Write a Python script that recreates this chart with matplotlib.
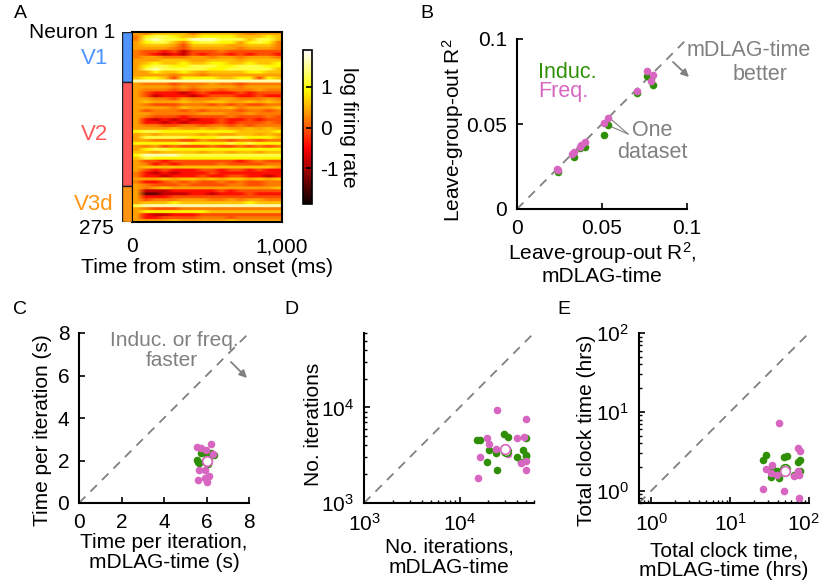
import numpy as np
import matplotlib
matplotlib.use("Agg")
import matplotlib.pyplot as plt
from matplotlib.transforms import ScaledTranslation

plt.rcParams["font.family"] = ["Liberation Sans", "DejaVu Sans"]
plt.rcParams["mathtext.default"] = "regular"
plt.rcParams["axes.unicode_minus"] = False
plt.rcParams["font.size"] = 15

W, H = 822, 586
GREEN = "#2f8f06"
PINK = "#d766c0"
GRAY = "#808080"

heat_rows = [
    "5466664666654555", "4788766777766676", "4898879998886886", "5788647887757874",
    "5666536666556664", "5555435555545554", "4332313334333333", "4321213233232332",
    "4554445545545554", "5556665566656666", "5676676677667667", "5788778887788877",
    "5898888877888886", "5576676566667766", "5555455455555555", "6776377776677376",
    "9999999999999999",
    "5444344454434444", "5555454555545555", "5444343443444544", "5322212322232333",
    "5312221233322322", "5544354445544454", "5655565566556565", "5433344434343344",
    "5555465555645556", "5344434344434434", "5544444555445444", "5433323333433343",
    "5212121223223233", "5221212223233343", "5443344344343444", "5555655656556565",
    "7887777777766667", "5656666565566565", "5888887778887776", "5544433544344344",
    "7777787777878777", "5453433343343434", "5788777777777777", "6656666566566566",
    "7999988888888888", "6877777777777777", "5332333333323433", "5423233334333344",
    "5666666666666665", "5323222332332322", "4212122232222222", "4221222322332212",
    "5556566565665656", "4223434334343344", "5433343333443344",
    "5456555555555556", "5111222223233333", "5001112212223222", "5222333333333333",
    "5344455544545544", "5666766666667666", "8999999999999999", "5433344444444444",
    "5777777766666666", "5211222333333333", "5223333444344444", "5555655555655555",
]
level_values = [-1.3, -0.8, -0.4, -0.05, 0.2, 0.4, 0.6, 0.9, 1.2, 1.6]
area_names = ["V1", "V2", "V3d"]
area_counts = [73, 150, 52]
area_colors = ["#4f94ff", "#ff5757", "#ff9410"]

# ---------- panel B ----------
r2_induc_x = [0.0243, 0.0335, 0.0371, 0.0400, 0.0510, 0.0537, 0.0708, 0.0763, 0.0786, 0.0800]
r2_induc_y = [0.0220, 0.0308, 0.0361, 0.0367, 0.0437, 0.0496, 0.0684, 0.0784, 0.0763, 0.0727]
r2_freq_x = [0.0233, 0.0243, 0.0324, 0.0333, 0.0371, 0.0378, 0.0400, 0.0510, 0.0537, 0.0708, 0.0763, 0.0786, 0.0800]
r2_freq_y = [0.0233, 0.0230, 0.0325, 0.0335, 0.0367, 0.0375, 0.0394, 0.0506, 0.0535, 0.0694, 0.0810, 0.0753, 0.0786]

# ---------- panel C ----------
time_induc_x = [5.73, 6.20, 6.35, 5.54, 5.60, 5.66, 5.98, 6.09]
time_induc_y = [2.37, 2.37, 2.26, 2.02, 1.94, 1.87, 2.34, 1.84]
time_freq_x = [6.21, 5.54, 5.73, 5.96, 6.32, 5.65, 5.93, 6.13, 5.93, 5.59, 6.01]
time_freq_y = [2.76, 2.65, 2.57, 2.49, 2.31, 1.54, 1.54, 1.27, 1.16, 1.07, 0.99]
time_mean_induc = [6.01, 1.99]
time_mean_freq = [6.01, 1.96]

# ---------- panel D ----------
iter_induc_x = [15380, 16400, 20200, 19560, 24300, 24700, 29240, 31700, 31200, 40000, 44050, 46200, 49700, 49700, 49700]
iter_induc_y = [4600, 4530, 3620, 2710, 3340, 2230, 5280, 4870, 3480, 3030, 2670, 3560, 4790, 3210, 3080]
iter_freq_x = [24700, 49700, 19560, 20200, 40000, 46700, 24300, 31700, 16500, 44050, 49700, 49700, 15500]
iter_freq_y = [9490, 7580, 4830, 4150, 4750, 4910, 3710, 3280, 3010, 2620, 2770, 2200, 1810]
iter_mean_induc = [30700, 3530]
iter_mean_freq = [30200, 3650]

# ---------- panel E ----------
clock_induc_x = [26.4, 28.6, 47.8, 52.1, 72.6, 76.9, 33.7, 39.7, 33.0, 42.1, 76.9, 65.2]
clock_induc_y = [2.49, 2.82, 2.69, 2.74, 2.34, 2.46, 1.97, 1.80, 1.49, 1.45, 1.78, 1.60]
clock_freq_x = [42.1, 72.6, 76.9, 33.7, 28.6, 33.0, 39.7, 71.8, 75.4, 63.8, 26.4, 47.8, 75.4]
clock_freq_y = [7.31, 3.47, 3.24, 2.13, 1.91, 1.70, 1.60, 1.80, 1.60, 1.55, 1.06, 1.00, 0.82]
clock_mean_induc = [49.7, 1.91]
clock_mean_freq = [49.7, 1.76]


def px_axes(fig, left, top, right, bottom):
    return fig.add_axes([left / W, 1 - bottom / H, (right - left) / W, (bottom - top) / H])


def scatter_panel(ax, ind_x, ind_y, frq_x, frq_y, lims, mean_ind=None, mean_frq=None):
    ax.plot(lims, lims, color=GRAY, lw=1.3, dashes=(5, 4), zorder=1)
    ax.scatter(ind_x, ind_y, s=30, color=GREEN, lw=0, zorder=3)
    ax.scatter(frq_x, frq_y, s=30, color=PINK, lw=0, zorder=4)
    if mean_ind is not None:
        ax.scatter(*mean_ind, s=48, facecolor="white", edgecolor=GREEN, lw=1.2, zorder=5)
        ax.scatter(*mean_frq, s=48, facecolor="white", edgecolor=PINK, lw=1.2, zorder=6)
    ax.set_xlim(lims)
    ax.set_ylim(lims)
    ax.spines["top"].set_visible(False)
    ax.spines["right"].set_visible(False)
    ax.spines["left"].set_linewidth(1.5)
    ax.spines["bottom"].set_linewidth(1.5)
    ax.tick_params(which="major", direction="in", length=4, width=1.2)
    ax.tick_params(axis="x", which="major", pad=7)
    ax.tick_params(axis="y", which="major", pad=7)
    ax.tick_params(which="minor", direction="in", length=2.5, width=1)


fig = plt.figure(figsize=(W / 100, H / 100), dpi=100)

# panel A
heat = np.array([[level_values[int(c)] for c in row] for row in heat_rows])
ax_a = px_axes(fig, 132, 32, 282, 222)
# rows repeated so bilinear only softens along time, the thin rows stay sharp
im = ax_a.imshow(np.repeat(heat, 6, axis=0), cmap="hot", vmin=-1.87, vmax=1.9, aspect="auto",
                 interpolation="bilinear", extent=[0, 1000, 275, 0])
ax_a.set_yticks([])
ax_a.set_xticks([0, 1000], ["0", "1,000"])
ax_a.tick_params(axis="x", length=0, pad=11)
ax_a.set_xlabel("Time from stim. onset (ms)", labelpad=1, fontsize=15.3)
for s in ax_a.spines.values():
    s.set_linewidth(1.5)

ax_bar = px_axes(fig, 122, 32, 132, 222)
ax_bar.bar([0] * 3, area_counts, bottom=np.cumsum([0] + area_counts[:-1]), width=1,
           color=area_colors, edgecolor="#222222", lw=1)
ax_bar.set_xlim(-0.5, 0.5)
ax_bar.set_ylim(275, 0)
ax_bar.axis("off")

cax = px_axes(fig, 303, 50, 312, 204)
cb = fig.colorbar(im, cax=cax)
cb.set_ticks([-1, 0, 1])
cb.ax.tick_params(direction="in", length=4, width=1.2, pad=6)
cb.outline.set_linewidth(1.2)
cb.set_label("log firing rate", rotation=270, labelpad=14)

# panel B
ax_b = px_axes(fig, 517, 39, 687, 209)
scatter_panel(ax_b, r2_induc_x, r2_induc_y, r2_freq_x, r2_freq_y, [0, 0.1])
ax_b.set_xticks([0, 0.05, 0.1], ["0", "0.05", "0.1"])
ax_b.set_yticks([0, 0.05, 0.1], ["0", "0.05", "0.1"])
ax_b.set_xlabel("Leave-group-out R$^2$,\nmDLAG-time", labelpad=2, linespacing=1.05)
ax_b.set_ylabel("Leave-group-out R$^2$", labelpad=0, y=0.465)

# panel C
ax_c = px_axes(fig, 79, 333, 249, 503)
scatter_panel(ax_c, time_induc_x, time_induc_y, time_freq_x, time_freq_y, [0, 8],
              time_mean_induc, time_mean_freq)
ax_c.set_xticks([0, 2, 4, 6, 8])
ax_c.set_yticks([0, 2, 4, 6, 8])
ax_c.set_xlabel("Time per iteration,\nmDLAG-time (s)", labelpad=1, linespacing=1.05)
ax_c.set_ylabel("Time per iteration (s)", labelpad=4, y=0.43)

# panel D
ax_d = px_axes(fig, 364, 333, 534, 503)
ax_d.set_xscale("log")
ax_d.set_yscale("log")
scatter_panel(ax_d, iter_induc_x, iter_induc_y, iter_freq_x, iter_freq_y, [1000, 60000],
              iter_mean_induc, iter_mean_freq)
ax_d.set_xticks([1000, 10000], ["$10^3$", "$10^4$"])
ax_d.set_yticks([1000, 10000], ["$10^3$", "$10^4$"])
ax_d.set_xlabel("No. iterations,\nmDLAG-time", labelpad=2, linespacing=1.1)
ax_d.set_ylabel("No. iterations", labelpad=-1, y=0.46)

# panel E
ax_e = px_axes(fig, 639, 333, 809, 503)
ax_e.set_xscale("log")
ax_e.set_yscale("log")
scatter_panel(ax_e, clock_induc_x, clock_induc_y, clock_freq_x, clock_freq_y, [0.7, 100],
              clock_mean_induc, clock_mean_freq)
ax_e.set_xticks([1, 10, 100], ["$10^0$", "$10^1$", "$10^2$"])
ax_e.set_yticks([1, 10, 100], ["$10^0$", "$10^1$", "$10^2$"])
ax_e.set_xlabel("Total clock time,\nmDLAG-time (hrs)", labelpad=5, linespacing=1.05)
ax_e.set_ylabel("Total clock time (hrs)", labelpad=0, y=0.43)
# last tick label would run off the right edge
last = ax_e.get_xticklabels()[-1]
last.set_transform(last.get_transform() + ScaledTranslation(-4 / 72, 0, fig.dpi_scale_trans))

# overlay in pixel coordinates for the hand placed notes
ov = fig.add_axes([0, 0, 1, 1], zorder=10)
ov.set_xlim(0, W)
ov.set_ylim(H, 0)
ov.axis("off")

for label, x, y in [("A", 20, 14), ("B", 427, 14), ("C", 20, 309), ("D", 291, 309), ("E", 564, 309)]:
    ov.text(x, y, label, ha="center", va="center", fontsize=14)

ov.text(115, 32, "Neuron 1", ha="right", va="center")
ov.text(108, 58, area_names[0], ha="right", va="center", color=area_colors[0], fontsize=16)
ov.text(108, 135, area_names[1], ha="right", va="center", color=area_colors[1], fontsize=16)
ov.text(114, 204, area_names[2], ha="right", va="center", color=area_colors[2], fontsize=16)
ov.text(114, 228, "275", ha="right", va="center")

ov.text(538, 72, "Induc.", color=GREEN, va="center", fontsize=15.5)
ov.text(538, 92, "Freq.", color=PINK, va="center", fontsize=15.5)
ov.text(749, 51, "mDLAG-time", color=GRAY, ha="center", va="center", fontsize=15.5)
ov.text(760, 74, "better", color=GRAY, ha="center", va="center", fontsize=15.5)
ov.text(652, 130, "One", color=GRAY, ha="center", va="center", fontsize=15.5)
ov.text(652, 152, "dataset", color=GRAY, ha="center", va="center", fontsize=15.5)
ov.plot([628, 612], [134, 120], color=GRAY, lw=0.8)
ov.plot([628, 612], [134, 127], color=GRAY, lw=0.8)
ov.annotate("", xy=(689, 77), xytext=(673, 62),
            arrowprops=dict(arrowstyle="-|>", color=GRAY, lw=1.3, mutation_scale=11, shrinkA=0, shrinkB=0))

ov.text(174, 340, "Induc. or freq.", color=GRAY, ha="center", va="center")
ov.text(172, 360, "faster", color=GRAY, ha="center", va="center")
ov.annotate("", xy=(247, 378), xytext=(231, 362),
            arrowprops=dict(arrowstyle="-|>", color=GRAY, lw=1.3, mutation_scale=11, shrinkA=0, shrinkB=0))

fig.savefig("out.png", dpi=100)
